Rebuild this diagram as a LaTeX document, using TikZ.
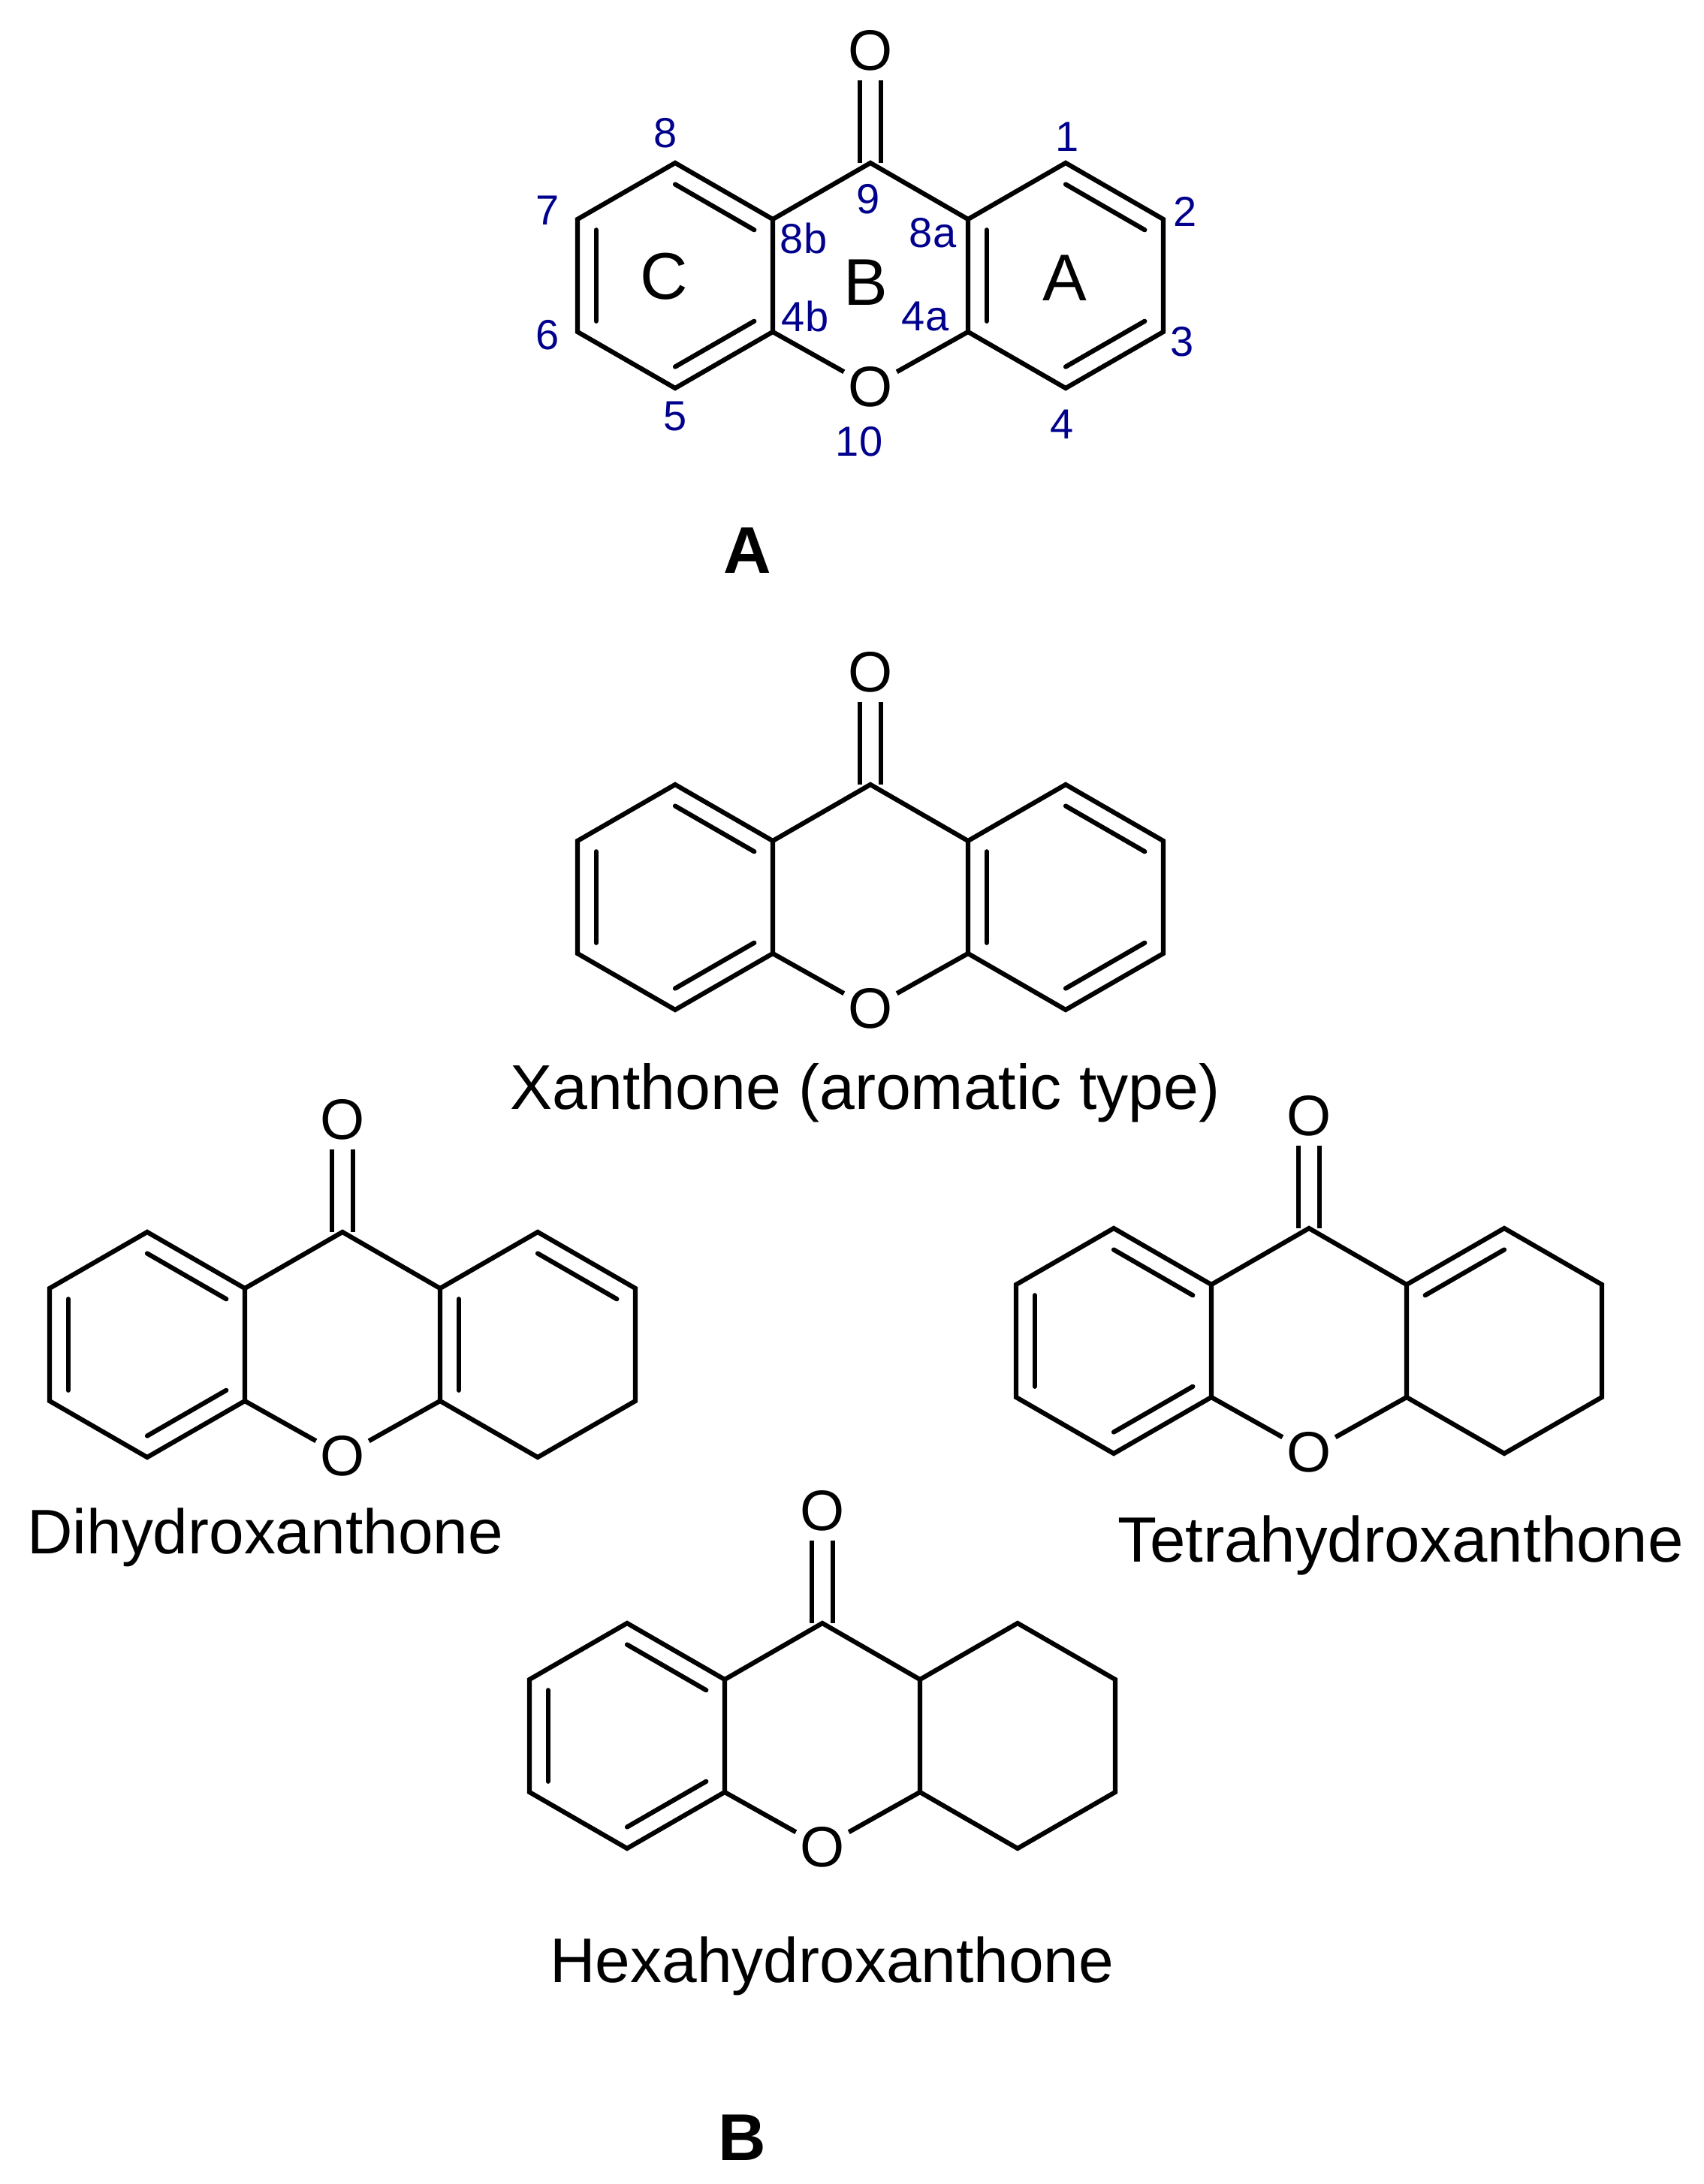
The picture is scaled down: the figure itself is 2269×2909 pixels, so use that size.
\documentclass[tikz,border=0pt]{standalone}
\usepackage{fontspec}
\setmainfont{Liberation Sans}
\usetikzlibrary{calc}
\definecolor{numblue}{RGB}{0,0,140}
\tikzset{
  bond/.style={line width=3.1pt,line join=miter,line cap=butt,black},
  innerbond/.style={line width=3.1pt,line cap=round,black},
  atom/.style={circle,inner sep=0pt,minimum size=40pt,font=\fontsize{38}{40}\selectfont},
  num/.style={inner sep=0pt,text=numblue,font=\fontsize{28}{30}\selectfont},
  ringlabel/.style={inner sep=0pt,font=\fontsize{44}{46}\selectfont},
  molname/.style={inner sep=0pt,anchor=base west,font=\fontsize{#1}{44}\selectfont},
  panel/.style={inner sep=0pt,anchor=base,font=\bfseries\fontsize{44}{46}\selectfont},
}
% #1 prefix, #2 cx, #3 cy : skeleton of the tricycle
\newcommand\molskel[3]{%
  \coordinate (#1rA) at ({#2+260},{#3});
  \coordinate (#1rC) at ({#2-260},{#3});
  \coordinate (#1C9) at ({#2},{#3-150});
  \coordinate (#1Ca) at ({#2+130},{#3-75});
  \coordinate (#1Cb) at ({#2+130},{#3+75});
  \coordinate (#1Cc) at ({#2-130},{#3-75});
  \coordinate (#1Cd) at ({#2-130},{#3+75});
  \coordinate (#1C1) at ({#2+260},{#3-150});
  \coordinate (#1C2) at ({#2+390},{#3-75});
  \coordinate (#1C3) at ({#2+390},{#3+75});
  \coordinate (#1C4) at ({#2+260},{#3+150});
  \coordinate (#1C5) at ({#2-260},{#3+150});
  \coordinate (#1C6) at ({#2-390},{#3+75});
  \coordinate (#1C7) at ({#2-390},{#3-75});
  \coordinate (#1C8) at ({#2-260},{#3-150});
  \node[atom] (#1Ot) at ({#2},{#3-300}) {O};
  \node[atom] (#1Ob) at ({#2},{#3+148}) {O};
  \draw[bond] (#1Cc)--(#1C8)--(#1C7)--(#1C6)--(#1C5)--(#1Cd)--cycle;
  \draw[bond] (#1Ca)--(#1C1)--(#1C2)--(#1C3)--(#1C4)--(#1Cb)--cycle;
  \draw[bond] (#1Cc)--(#1C9)--(#1Ca);
  \draw[bond] (#1Cd)--(#1Ob);
  \draw[bond] (#1Cb)--(#1Ob);
  \draw[bond] ([xshift=-7pt]#1C9)--([xshift=-7pt]#1Ot.south);
  \draw[bond] ([xshift=7pt]#1C9)--([xshift=7pt]#1Ot.south);
  \dbl{#1}{rC}{C8}{Cc}
  \dbl{#1}{rC}{C6}{C7}
  \dbl{#1}{rC}{C5}{Cd}
}
% inner line of a double bond, drawn towards the ring centre
\newcommand\dbl[4]{%
  \draw[innerbond] ($(#1#2)!0.81!(#1#3)$)--($(#1#2)!0.81!(#1#4)$);
}
\begin{document}
\begin{tikzpicture}[x=0.5pt,y=-0.5pt]
\useasboundingbox (0,0) rectangle (2269,2909);
% --- top, numbered xanthone
\molskel{a}{1159}{367}
\dbl{a}{rA}{Ca}{Cb}
\dbl{a}{rA}{C1}{C2}
\dbl{a}{rA}{C3}{C4}
\node[num] (n1) at (1421,182) {1};
\node[num] (n2) at (1578,282) {2};
\node[num] (n3) at (1574,455) {3};
\node[num] (n4) at (1414,565) {4};
\node[num] (n5) at (899,554) {5};
\node[num] (n6) at (729,446) {6};
\node[num] (n7) at (729,280) {7};
\node[num] (n8) at (886,177) {8};
\node[num] (n9) at (1156,265) {9};
\node[num] (n10) at (1144,588) {10};
\node[num] (n8a) at (1242,310) {8a};
\node[num] (n8b) at (1070,317) {8b};
\node[num] (n4a) at (1232,421) {4a};
\node[num] (n4b) at (1072,421) {4b};
\node[ringlabel] (ringA) at (1418,370) {A};
\node[ringlabel] (ringB) at (1153,376) {B};
\node[ringlabel] (ringC) at (884,368) {C};
\node[panel] (panelA) at (995,763) {A};
% --- xanthone
\molskel{b}{1159}{1195}
\dbl{b}{rA}{Ca}{Cb}
\dbl{b}{rA}{C1}{C2}
\dbl{b}{rA}{C3}{C4}
\node[molname=42.1] (nameX) at (679,1477) {Xanthone (aromatic type)};
% --- dihydro
\molskel{c}{456}{1791}
\dbl{c}{rA}{Ca}{Cb}
\dbl{c}{rA}{C1}{C2}
\node[molname=41.9] (nameD) at (36,2069) {Dihydroxanthone};
% --- tetrahydro
\molskel{d}{1743}{1786}
\dbl{d}{rA}{Ca}{C1}
\node[molname=42.6] (nameT) at (1488,2080) {Tetrahydroxanthone};
% --- hexahydro
\molskel{e}{1095}{2312}
\node[molname=41.95] (nameH) at (732,2640) {Hexahydroxanthone};
\node[panel] (panelB) at (988,2877) {B};
\end{tikzpicture}
\end{document}
